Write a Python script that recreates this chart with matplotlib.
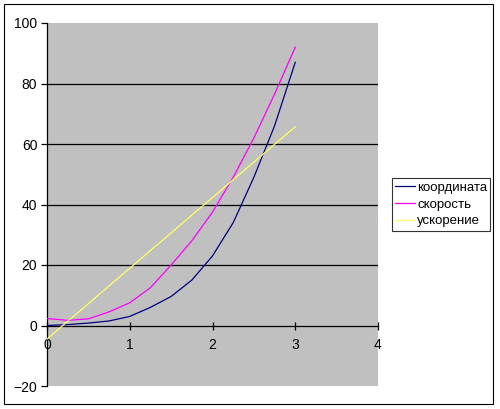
import matplotlib.pyplot as plt
from matplotlib.patches import Rectangle

t = [0, 0.25, 0.5, 0.75, 1.0, 1.25, 1.5, 1.75, 2.0, 2.25, 2.5, 2.75, 3.0]
koord = [0, 0.3, 0.8, 1.5, 3, 6, 9.6, 15, 23, 34, 49, 66, 87]
skorost = [2.3, 1.7, 2.2, 4.5, 7.5, 12.5, 20, 28, 37.5, 49, 62, 76.5, 92]
uskor = [-4.5, 1.4, 7.2, 13.1, 18.9, 24.8, 30.6, 36.5, 42.3, 48.2, 54.0, 59.9, 65.7]
names = ['координата', 'скорость', 'ускорение']

plt.rcParams['font.family'] = ['Liberation Sans', 'DejaVu Sans']

fig = plt.figure(figsize=(5, 4.09), dpi=100)
ax = fig.add_axes([47 / 500, 1 - 386 / 409, 331 / 500, 363 / 409])
ax.set_facecolor('#c0c0c0')

for v in [20, 40, 60, 80]:
    ax.axhline(v, color='black', lw=0.9, zorder=1)

ax.plot(t, koord, color='#000080', lw=0.9, label=names[0], zorder=3)
ax.plot(t, skorost, color='#ff00ff', lw=0.9, label=names[1], zorder=3)
ax.plot(t, uskor, color='#ffff66', lw=0.9, label=names[2], zorder=3)

ax.set_xlim(0, 4)
ax.set_ylim(-20, 100)
ax.set_xticks([0, 1, 2, 3, 4])
ax.set_yticks([-20, 0, 20, 40, 60, 80, 100])

ax.spines['bottom'].set_position(('data', 0))
ax.spines['top'].set_visible(False)
ax.spines['right'].set_visible(False)
ax.spines['left'].set_linewidth(0.9)
ax.spines['bottom'].set_linewidth(0.9)
ax.tick_params(axis='y', direction='out', length=4, width=0.9, labelsize=10, pad=3)
ax.tick_params(axis='x', direction='inout', length=6, width=0.9, labelsize=10, pad=6)

leg = ax.legend(loc='center left', bbox_to_anchor=(392 / 500, 1 - 204.5 / 409),
                bbox_transform=fig.transFigure, fontsize=9.5, frameon=True,
                fancybox=False, edgecolor='black', handlelength=1.5,
                handletextpad=0.15, borderpad=0.25, labelspacing=0.35,
                borderaxespad=0)
leg.get_frame().set_linewidth(0.8)

fig.patches.append(Rectangle((4 / 500, 1 - 404 / 409), 489 / 500, 400 / 409,
                             transform=fig.transFigure, fill=False,
                             edgecolor='black', lw=0.8))

fig.savefig('out.png', dpi=100)
